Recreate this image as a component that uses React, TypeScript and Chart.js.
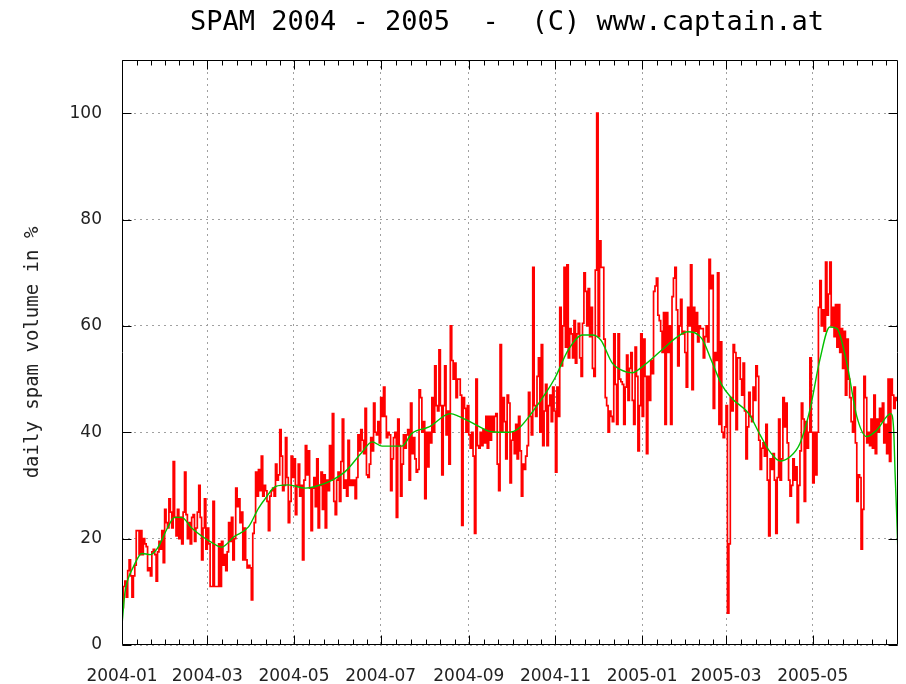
import React, { useEffect, useRef } from 'react';
import { Chart, registerables } from 'chart.js';

Chart.register(...registerables);

const chartTitle = 'SPAM 2004 - 2005  -  (C) www.captain.at';
const yAxisTitle = 'daily spam volume in %';

// days since 2004-01-01 of the labelled month starts
const monthTickDays = [0, 60, 121, 182, 244, 305, 366, 425, 486];
const monthTickLabels = ['2004-01', '2004-03', '2004-05', '2004-07', '2004-09', '2004-11', '2005-01', '2005-03', '2005-05'];
const yTickValues = [0, 20, 40, 60, 80, 100];
const dayMax = 546;
const yMax = 110;

// daily spam volume in %, index = day since 2004-01-01
const spamVolume = [
  12, 7, 11, 12, 9, 14, 16, 13, 9, 13,
  15, 21.5, 21.5, 17, 21.5, 17, 20, 19, 18.5, 14,
  14.5, 13, 17.5, 18, 17, 12, 17.5, 19.5, 18, 21.5,
  15.5, 25.5, 23, 22, 27.5, 25, 22, 34.5, 24, 20.5,
  25.5, 20, 24, 19, 25, 32.5, 24.5, 20, 23, 19,
  24, 24.5, 19.5, 22, 25, 30, 24, 16, 22, 27.5,
  18, 22, 19, 11, 11, 27, 11, 11, 11, 19,
  11, 19.5, 15, 17, 14, 17.5, 23, 19.5, 24, 16,
  20, 29.5, 26, 27.5, 23, 25, 16, 22, 16, 14.5,
  15, 14.5, 8.5, 21, 23, 32.5, 28, 33, 29, 35.5,
  28, 30, 29, 27, 21.5, 28, 29, 29.5, 28, 34,
  31, 32, 40.5, 35.5, 29, 30, 39, 31.5, 23, 27,
  35.5, 31.5, 35, 24.5, 30, 34, 28, 30, 16, 31,
  37.5, 32, 36.5, 29.5, 21.5, 29.5, 31.5, 26, 35, 22,
  30, 32.5, 25.5, 32, 22, 31, 29, 37.5, 31, 43.5,
  27, 24.5, 31, 32.5, 27, 34.5, 42.5, 29.5, 31, 28,
  38.5, 30, 31, 30, 31, 27.5, 31.5, 39.5, 36.5, 40.5,
  38.5, 36, 44.5, 32, 31.5, 34, 39, 36.5, 45.5, 40,
  39.5, 42, 38, 46.5, 43, 48.5, 43, 39, 40, 39.5,
  29, 35, 39, 40, 24, 42.5, 37.5, 28, 34, 39.5,
  37, 39.5, 40.5, 31, 45.5, 36, 39, 35, 32.5, 33,
  48, 46.5, 40, 42, 27.5, 40, 33.5, 40, 38, 46.5,
  40, 52.5, 45, 44, 55.5, 45, 32, 45, 52.5, 39.5,
  44, 34, 60, 53.5, 50, 53, 46.5, 50, 50, 47,
  22.5, 46.5, 44.5, 40, 45, 39.5, 37, 40, 35.5, 21,
  50, 37.5, 37, 40, 37.5, 40.5, 38, 43, 37, 43,
  38.5, 43, 40, 43, 43.5, 34, 29, 56.5, 40, 46.5,
  42, 35, 47, 45.5, 30.5, 38.5, 40, 36, 41.5, 35,
  43, 36.5, 28, 34, 33, 35.5, 37.5, 47.5, 43, 39.5,
  71, 45, 43, 50.5, 54, 40, 56.5, 37.5, 44, 49,
  37.5, 45, 47, 42, 48.5, 44, 32.5, 48.5, 43, 63.5,
  52.5, 60, 71, 56, 71.5, 54, 59.5, 58.5, 54, 61,
  53, 58.5, 60.5, 54, 50.5, 60.5, 70, 66.5, 60, 67,
  58, 63.5, 52, 50.5, 70.5, 100, 58, 76, 71, 71,
  57.5, 46.5, 45, 40, 44, 43, 42, 58.5, 49, 41.5,
  58.5, 50, 49.5, 49, 41.5, 48.5, 54.5, 46, 52, 55,
  46, 41.5, 56, 50.5, 36.5, 45, 58.5, 43, 57.5, 50.5,
  36, 50.5, 46, 53.5, 51, 66.5, 67.5, 69, 62, 61,
  59, 55, 62.5, 41.5, 62.5, 55, 60, 41.5, 65.5, 69,
  71, 63, 52.5, 60, 65, 58.5, 59, 55, 48.5, 63.5,
  60, 71.5, 48, 63.5, 59, 62.5, 57, 60, 59.5, 59.5,
  54, 58, 60, 57, 72.5, 67, 69.5, 44.5, 55, 53.5,
  70, 41.5, 57, 40, 39, 41, 45, 6, 19, 46.5,
  44, 56.5, 55, 40.5, 54, 54, 50, 47, 53, 44,
  35, 41, 47.5, 43, 42, 48.5, 46, 52.5, 50.5, 38.5,
  33, 37, 38, 35.5, 41.5, 31, 20.5, 35, 33, 36,
  31, 21, 31.5, 42.5, 31, 35, 46.5, 41, 45.5, 38,
  31, 28, 30, 35, 31, 33.5, 23, 30, 36.5, 45.5,
  42.5, 27, 42, 37, 40, 54, 40, 30.5, 40, 32,
  40, 63.5, 68.5, 60, 63, 59, 72, 62, 66, 72,
  60, 63.5, 58, 64, 56, 64, 55, 59.5, 52, 59,
  47, 57.5, 50, 46.5, 42, 40, 48.5, 38, 27, 32,
  31.5, 18, 25.5, 50.5, 46.5, 38, 40, 37.5, 42.5, 37,
  47, 36, 42.5, 40, 44.5, 42, 45.5, 38, 41.5, 36,
  50, 34.5, 50, 47, 44.5, 46.5, 46,
];

// smoothed trend (green), read at these days
const trendDays = [
  0, 2, 4, 8, 14, 20, 25, 32, 37, 42, 49, 56, 63, 70, 79, 89, 96, 101, 108, 117,
  129, 136, 148, 157, 169, 176, 183, 197, 204, 216, 231, 237, 249, 260, 272, 279, 289, 298, 305, 314,
  324, 331, 337, 345, 354, 359, 366, 380, 390, 398, 408, 415, 422, 429, 441, 449, 456, 463, 470, 477,
  484, 491, 498, 503, 510, 517, 524, 531, 541, 543, 544, 545, 546,
];
const trendValues = [
  3.8, 9.7, 12.2, 14.7, 17.2, 17, 18.2, 22, 24, 24, 22, 20.5, 19.3, 18.4, 20.4, 22.2, 25.7, 27.6, 29.8, 30.1,
  29.5, 29.8, 31, 32.6, 36.3, 38.2, 37.4, 37.4, 39.8, 41, 43.5, 43, 41.4, 40.1, 40, 40.7, 43.9, 47.3, 50.4, 55.5,
  58.3, 58.3, 57.3, 53, 51.4, 51.2, 52.3, 55.5, 57.8, 58.9, 57.6, 53.3, 48.9, 46.4, 43.5, 39.5, 36.3, 34.6, 35.4, 37.9,
  44.2, 53.6, 59.8, 59.5, 53, 43, 39.2, 40.4, 43.5, 40.2, 32, 25, 17,
];

const gnuplotDecor = {
  id: 'gnuplotDecor',
  afterDraw(chart: any) {
    const { ctx, chartArea: a } = chart;
    const xs = chart.scales.x;
    const ys = chart.scales.y;
    const L = Math.round(a.left) + 0.5;
    const R = Math.round(a.right) - 0.5;
    const T = Math.round(a.top) + 0.5;
    const B = Math.round(a.bottom) - 0.5;
    ctx.save();
    ctx.setLineDash([]);
    ctx.strokeStyle = '#000';
    ctx.lineWidth = 1;
    ctx.beginPath();
    ctx.rect(L, T, R - L, B - T);
    const majorLen = 9;
    const minorLen = 5;
    const majors = monthTickDays.map((d) => Math.round(xs.getPixelForValue(d)) + 0.5);
    majors.forEach((px) => {
      ctx.moveTo(px, B); ctx.lineTo(px, B - majorLen);
      ctx.moveTo(px, T); ctx.lineTo(px, T + majorLen);
    });
    for (let i = 0; i < majors.length; i++) {
      const last = i === majors.length - 1;
      const step = last ? (majors[i] - majors[i - 1]) / 6 : (majors[i + 1] - majors[i]) / 6;
      for (let k = 1; k < (last ? 20 : 6); k++) {
        const px = Math.round(majors[i] + k * step) + 0.5;
        if (px >= R - 1) break;
        ctx.moveTo(px, B); ctx.lineTo(px, B - minorLen);
        ctx.moveTo(px, T); ctx.lineTo(px, T + minorLen);
      }
    }
    yTickValues.forEach((v) => {
      const py = Math.round(ys.getPixelForValue(v)) + 0.5;
      ctx.moveTo(L, py); ctx.lineTo(L + majorLen, py);
      ctx.moveTo(R, py); ctx.lineTo(R - majorLen, py);
    });
    ctx.stroke();
    ctx.fillStyle = '#000';
    ctx.font = '27px "DejaVu Sans Mono"';
    ctx.textAlign = 'center';
    ctx.textBaseline = 'alphabetic';
    ctx.fillText(chartTitle, (a.left + a.right) / 2 - 3, 30);
    ctx.restore();
  },
};

export default function App() {
  const canvasRef = useRef<HTMLCanvasElement | null>(null);

  useEffect(() => {
    document.body.style.margin = '0';
    const canvas = canvasRef.current;
    if (!canvas) return;
    const tickFont = { family: '"DejaVu Sans", sans-serif', size: 17 };
    const chart = new Chart(canvas, {
      type: 'line',
      data: {
        datasets: [
          {
            label: 'trend',
            data: trendDays.map((d, i) => ({ x: d, y: trendValues[i] })),
            borderColor: '#00c000',
            borderWidth: 1.4,
            pointRadius: 0,
            cubicInterpolationMode: 'monotone',
            fill: false,
          },
          {
            label: 'spam',
            data: spamVolume.map((v, i) => ({ x: i, y: v })),
            borderColor: '#ff0000',
            borderWidth: 1.7,
            pointRadius: 0,
            stepped: 'after',
            fill: false,
          },
        ],
      },
      options: {
        animation: false,
        responsive: false,
        devicePixelRatio: 1,
        events: [],
        layout: { padding: { top: 60, right: 8, left: 0, bottom: 0 } },
        plugins: {
          legend: { display: false },
          tooltip: { enabled: false },
          title: { display: false },
        },
        scales: {
          x: {
            type: 'linear',
            min: 0,
            max: dayMax,
            afterBuildTicks: (s: any) => { s.ticks = monthTickDays.map((v) => ({ value: v })); },
            afterFit: (s: any) => { s.height = 39; },
            ticks: {
              autoSkip: false,
              maxRotation: 0,
              minRotation: 0,
              padding: 21,
              color: '#222',
              font: tickFont,
              callback: (_v: any, i: number) => monthTickLabels[i],
            },
            grid: { color: '#a0a0a0', lineWidth: 1, drawTicks: false },
            border: { display: false, dash: [2, 4] },
          },
          y: {
            type: 'linear',
            min: 0,
            max: yMax,
            afterBuildTicks: (s: any) => { s.ticks = yTickValues.map((v) => ({ value: v })); },
            afterFit: (s: any) => { s.width = 122; },
            ticks: { padding: 20, color: '#222', font: tickFont },
            grid: { color: '#a0a0a0', lineWidth: 1, drawTicks: false },
            border: { display: false, dash: [2, 4] },
            title: {
              display: true,
              text: yAxisTitle,
              color: '#222',
              font: { family: '"DejaVu Sans Mono", monospace', size: 19 },
              padding: { top: 22, bottom: 0 },
            },
          },
        },
      },
      plugins: [gnuplotDecor],
    } as any);
    return () => chart.destroy();
  }, []);

  return (
    <div style={{ width: 906, height: 684 }}>
      <canvas ref={canvasRef} width={906} height={684} style={{ display: 'block' }} />
    </div>
  );
}
